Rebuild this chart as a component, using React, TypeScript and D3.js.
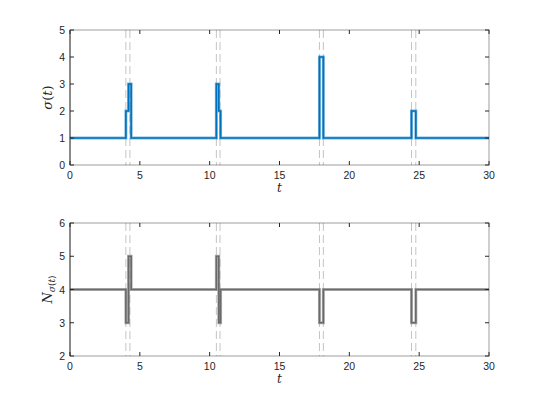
import React, { useEffect, useRef } from "react";
import * as d3 from "d3";

// step breakpoints of sigma(t)
const sigmaT = [0, 4.0, 4.19, 4.38, 10.48, 10.65, 10.78, 17.86, 18.14, 24.45, 24.76, 30];
const sigmaV = [1, 2, 3, 1, 3, 2, 1, 4, 1, 2, 1, 1];
// N_sigma(t)
const nT = [0, 4.0, 4.19, 4.38, 10.48, 10.65, 10.78, 17.86, 18.14, 24.45, 24.76, 30];
const nV = [4, 3, 5, 4, 5, 3, 4, 3, 4, 3, 4, 4];
// switching instants (dashed markers)
const switchStart = [4.0, 10.48, 17.86, 24.45];
const switchEnd = [4.29, 10.74, 18.14, 24.76];
const xTicks = [0, 5, 10, 15, 20, 25, 30];
const sigmaTicks = [0, 1, 2, 3, 4, 5];
const nTicks = [2, 3, 4, 5, 6];

const W = 540;
const H = 405;
const left = 70;
const right = 489;

export default function App() {
  const svgRef = useRef<SVGSVGElement>(null);

  useEffect(() => {
    const svg = d3.select(svgRef.current);
    svg.selectAll("*").remove();
    const axisColor = "#262626";
    const font = "'Liberation Sans', Arial, sans-serif";

    const x = d3.scaleLinear().domain([0, 30]).range([left, right]);

    function panel(top: number, bottom: number, yDomain: number[], yTicks: number[],
                   ts: number[], vs: number[], color: string) {
      const y = d3.scaleLinear().domain(yDomain).range([bottom, top]);
      const g = svg.append("g");

      // switch markers
      const marks = switchStart.concat(switchEnd);
      g.selectAll("line.sw")
        .data(marks)
        .enter()
        .append("line")
        .attr("x1", (d) => x(d))
        .attr("x2", (d) => x(d))
        .attr("y1", top)
        .attr("y2", bottom)
        .attr("stroke", "#c4c4c4")
        .attr("stroke-width", 1)
        .attr("stroke-dasharray", "8 4");

      const pts = ts.map((t, i) => [t, vs[i]] as [number, number]);
      const line = d3.line<[number, number]>()
        .x((d) => x(d[0]))
        .y((d) => y(d[1]))
        .curve(d3.curveStepAfter);

      g.append("path")
        .attr("d", line(pts))
        .attr("fill", "none")
        .attr("stroke", color)
        .attr("stroke-opacity", 0.5)
        .attr("stroke-width", 3);
      g.append("path")
        .attr("d", line(pts))
        .attr("fill", "none")
        .attr("stroke", color)
        .attr("stroke-width", 1.6);

      // box
      g.append("rect")
        .attr("x", left)
        .attr("y", top)
        .attr("width", right - left)
        .attr("height", bottom - top)
        .attr("fill", "none")
        .attr("stroke", axisColor)
        .attr("stroke-opacity", 0.45)
        .attr("stroke-width", 1);
      g.append("line").attr("x1", left).attr("x2", left).attr("y1", top).attr("y2", bottom)
        .attr("stroke", axisColor).attr("stroke-opacity", 0.8);

      // ticks
      xTicks.forEach((t) => {
        g.append("line").attr("x1", x(t)).attr("x2", x(t)).attr("y1", bottom).attr("y2", bottom - 4)
          .attr("stroke", axisColor);
        g.append("line").attr("x1", x(t)).attr("x2", x(t)).attr("y1", top).attr("y2", top + 4)
          .attr("stroke", axisColor);
        g.append("text").attr("x", x(t)).attr("y", bottom + 14)
          .attr("text-anchor", "middle").attr("font-family", font).attr("font-size", 10.5)
          .attr("fill", axisColor).text(t);
      });
      yTicks.forEach((v) => {
        g.append("line").attr("x1", left).attr("x2", left + 4).attr("y1", y(v)).attr("y2", y(v))
          .attr("stroke", axisColor);
        g.append("line").attr("x1", right).attr("x2", right - 4).attr("y1", y(v)).attr("y2", y(v))
          .attr("stroke", axisColor);
        g.append("text").attr("x", left - 5).attr("y", y(v) + 4)
          .attr("text-anchor", "end").attr("font-family", font).attr("font-size", 10.5)
          .attr("fill", axisColor).text(v);
      });

      g.append("text").attr("x", (left + right) / 2).attr("y", bottom + 27)
        .attr("text-anchor", "middle").attr("font-family", "'DejaVu Serif', serif")
        .attr("font-style", "italic").attr("font-size", 12).attr("fill", axisColor).text("t");
      return { g, y };
    }

    const p1 = panel(30, 165, [0, 5], sigmaTicks, sigmaT, sigmaV, "#0072BD");
    const p2 = panel(223, 356, [2, 6], nTicks, nT, nV, "#6a6a6a");

    const l1 = p1.g.append("text")
      .attr("transform", `translate(52,${(30 + 165) / 2}) rotate(-90)`)
      .attr("text-anchor", "middle").attr("font-family", "'DejaVu Serif', serif")
      .attr("font-size", 13).attr("fill", axisColor);
    l1.append("tspan").attr("font-style", "italic").text("σ");
    l1.append("tspan").text("(");
    l1.append("tspan").attr("font-style", "italic").text("t");
    l1.append("tspan").text(")");

    const l2 = p2.g.append("text")
      .attr("transform", `translate(52,${(223 + 356) / 2}) rotate(-90)`)
      .attr("text-anchor", "middle").attr("font-family", "'DejaVu Serif', serif")
      .attr("font-size", 13).attr("fill", axisColor);
    l2.append("tspan").attr("font-style", "italic").text("N");
    l2.append("tspan").attr("font-size", 9).attr("dy", 3).attr("font-style", "italic").text("σ");
    l2.append("tspan").attr("font-size", 9).text("(");
    l2.append("tspan").attr("font-size", 9).attr("font-style", "italic").text("t");
    l2.append("tspan").attr("font-size", 9).text(")");
  }, []);

  return (
    <svg ref={svgRef} width={W} height={H}
      style={{ position: "absolute", left: 0, top: 0, background: "#fff" }} />
  );
}
